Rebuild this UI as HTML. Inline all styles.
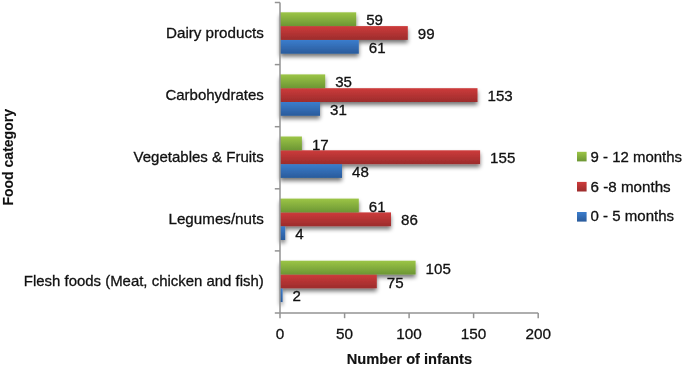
<!DOCTYPE html>
<html><head><meta charset="utf-8"><title>Chart</title>
<style>
html,body{margin:0;padding:0;background:#fff;}
body{width:685px;height:366px;overflow:hidden;}
svg{display:block;font-family:"Liberation Sans",sans-serif;}
text{fill:#111;stroke:#111;stroke-width:0.3px;}
text.b{stroke-width:0.15px;}
</style></head><body>
<svg width="685" height="366" viewBox="0 0 685 366">
<defs>
<linearGradient id="gg" x1="0" y1="0" x2="0" y2="1"><stop offset="0" stop-color="#9cc546"/><stop offset="1" stop-color="#6c9634"/></linearGradient>
<linearGradient id="gr" x1="0" y1="0" x2="0" y2="1"><stop offset="0" stop-color="#cd3b3b"/><stop offset="1" stop-color="#9c2c2c"/></linearGradient>
<linearGradient id="gb" x1="0" y1="0" x2="0" y2="1"><stop offset="0" stop-color="#3b7dcd"/><stop offset="1" stop-color="#2a5b9b"/></linearGradient>
<filter id="sh" x="270" y="0" width="300" height="330" filterUnits="userSpaceOnUse"><feGaussianBlur in="SourceAlpha" stdDeviation="2"/><feOffset dx="0.4" dy="3"/><feComponentTransfer><feFuncA type="linear" slope="0.55"/></feComponentTransfer><feMerge><feMergeNode/><feMergeNode in="SourceGraphic"/></feMerge></filter>
</defs>
<rect width="685" height="366" fill="#fff"/>

<g filter="url(#sh)">
<rect x="280.0" y="39.9" width="78.8" height="13.8" fill="url(#gb)"/>
<rect x="280.0" y="26.1" width="127.8" height="13.8" fill="url(#gr)"/>
<rect x="280.0" y="12.3" width="76.2" height="13.8" fill="url(#gg)"/>
<rect x="280.0" y="102.0" width="40.0" height="13.8" fill="url(#gb)"/>
<rect x="280.0" y="88.2" width="197.5" height="13.8" fill="url(#gr)"/>
<rect x="280.0" y="74.4" width="45.2" height="13.8" fill="url(#gg)"/>
<rect x="280.0" y="164.1" width="62.0" height="13.8" fill="url(#gb)"/>
<rect x="280.0" y="150.3" width="200.1" height="13.8" fill="url(#gr)"/>
<rect x="280.0" y="136.5" width="21.9" height="13.8" fill="url(#gg)"/>
<rect x="280.0" y="226.2" width="5.2" height="13.8" fill="url(#gb)"/>
<rect x="280.0" y="212.4" width="111.0" height="13.8" fill="url(#gr)"/>
<rect x="280.0" y="198.6" width="78.8" height="13.8" fill="url(#gg)"/>
<rect x="280.0" y="288.3" width="2.6" height="13.8" fill="url(#gb)"/>
<rect x="280.0" y="274.5" width="96.8" height="13.8" fill="url(#gr)"/>
<rect x="280.0" y="260.7" width="135.6" height="13.8" fill="url(#gg)"/>
</g>
<g stroke="#939393" stroke-width="1.5" fill="none">
<path d="M280.0 2.5V313.0"/>
<path d="M274.8 2.5H280.0"/>
<path d="M274.8 64.6H280.0"/>
<path d="M274.8 126.7H280.0"/>
<path d="M274.8 188.8H280.0"/>
<path d="M274.8 250.9H280.0"/>
<path d="M274.8 313.0H280.0"/>
<path d="M280.0 313.0H538.2"/>
<path d="M280.0 313.0V318.2"/>
<path d="M344.6 313.0V318.2"/>
<path d="M409.1 313.0V318.2"/>
<path d="M473.6 313.0V318.2"/>
<path d="M538.2 313.0V318.2"/>
</g>
<text x="166.0" y="38.0" font-size="15" textLength="97.8" lengthAdjust="spacingAndGlyphs">Dairy products</text>
<text x="165.4" y="100.1" font-size="15" textLength="98.4" lengthAdjust="spacingAndGlyphs">Carbohydrates</text>
<text x="133.5" y="162.2" font-size="15" textLength="130.3" lengthAdjust="spacingAndGlyphs">Vegetables &amp; Fruits</text>
<text x="168.5" y="224.3" font-size="15" textLength="95.3" lengthAdjust="spacingAndGlyphs">Legumes/nuts</text>
<text x="23.8" y="286.4" font-size="15" textLength="240.0" lengthAdjust="spacingAndGlyphs">Flesh foods (Meat, chicken and fish)</text>
<text x="366.2" y="25.3" font-size="15.1">59</text>
<text x="417.8" y="39.1" font-size="15.1">99</text>
<text x="368.8" y="52.9" font-size="15.1">61</text>
<text x="335.2" y="87.4" font-size="15.1">35</text>
<text x="487.5" y="101.2" font-size="15.1">153</text>
<text x="330.0" y="115.0" font-size="15.1">31</text>
<text x="311.9" y="149.5" font-size="15.1">17</text>
<text x="490.1" y="163.3" font-size="15.1">155</text>
<text x="352.0" y="177.1" font-size="15.1">48</text>
<text x="368.8" y="211.6" font-size="15.1">61</text>
<text x="401.0" y="225.4" font-size="15.1">86</text>
<text x="295.2" y="239.2" font-size="15.1">4</text>
<text x="425.6" y="273.7" font-size="15.1">105</text>
<text x="386.8" y="287.5" font-size="15.1">75</text>
<text x="292.6" y="301.3" font-size="15.1">2</text>
<text x="280.0" y="338.8" font-size="15.3" text-anchor="middle">0</text>
<text x="344.6" y="338.8" font-size="15.3" text-anchor="middle">50</text>
<text x="409.1" y="338.8" font-size="15.3" text-anchor="middle">100</text>
<text x="473.6" y="338.8" font-size="15.3" text-anchor="middle">150</text>
<text x="538.2" y="338.8" font-size="15.3" text-anchor="middle">200</text>
<text x="346.7" y="364.3" font-size="14.6" font-weight="bold" class="b" textLength="125.4" lengthAdjust="spacingAndGlyphs">Number of infants</text>
<text transform="translate(12.8,205.6) rotate(-90)" font-size="15" font-weight="bold" class="b" textLength="96.6" lengthAdjust="spacingAndGlyphs">Food category</text>
<rect x="577" y="151.8" width="9.6" height="9.6" fill="url(#gg)"/>
<text x="590.6" y="161.8" font-size="15.1" textLength="91.5" lengthAdjust="spacingAndGlyphs">9 - 12 months</text>
<rect x="577" y="181.9" width="9.6" height="9.6" fill="url(#gr)"/>
<text x="590.6" y="191.5" font-size="15.1" textLength="80.1" lengthAdjust="spacingAndGlyphs">6 -8 months</text>
<rect x="577" y="212.0" width="9.6" height="9.6" fill="url(#gb)"/>
<text x="590.6" y="221.2" font-size="15.1" textLength="83.5" lengthAdjust="spacingAndGlyphs">0 - 5 months</text>
</svg></body></html>
